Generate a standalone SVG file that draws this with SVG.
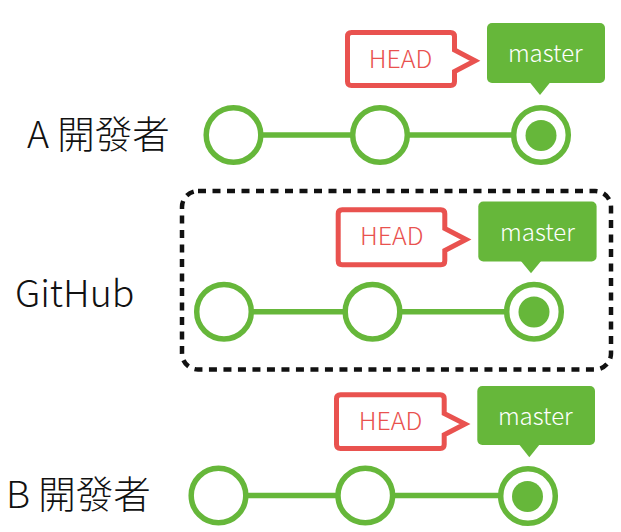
<svg xmlns="http://www.w3.org/2000/svg" width="621" height="532" viewBox="0 0 621 532">
<style>
.lbl{font-family:"Noto Sans CJK TC","Noto Sans CJK SC",sans-serif;font-size:37.5px;font-weight:300;fill:#111}
.gh{font-family:"Noto Sans CJK TC","Noto Sans",sans-serif;font-size:37.5px;font-weight:300;fill:#111}
.head{fill:#fff;stroke:#E9524F;stroke-width:5;stroke-linejoin:miter}
.headt{font-family:"Noto Sans CJK TC","Liberation Sans",sans-serif;font-size:25px;font-weight:300;fill:#E9524F;text-anchor:middle}
.mbox{fill:#66B73A}
.mt{font-family:"Noto Sans CJK TC","Liberation Sans",sans-serif;font-size:24px;font-weight:300;fill:#fff;text-anchor:middle}
.c{fill:#fff;stroke:#66B73A;stroke-width:5.5}
.dot{fill:#66B73A}
.ln{stroke:#66B73A;stroke-width:5.5;fill:none}
.dash{fill:none;stroke:#111;stroke-width:4.5;stroke-dasharray:8 6.5}
</style>

<g id="labels">
<text class="lbl" x="27" y="148">A 開發者</text>
<text class="gh" x="15" y="307">GitHub</text>
<text class="lbl" x="6" y="508">B 開發者</text>
</g>

<g id="github-box">
<rect class="dash" x="182" y="191" width="429" height="178.5" rx="16"/>
</g>

<g id="connectors">
<line class="ln" x1="260" y1="135" x2="353" y2="135"/>
<line class="ln" x1="407" y1="135" x2="514" y2="135"/>
<line class="ln" x1="251" y1="311.7" x2="346" y2="311.7"/>
<line class="ln" x1="399" y1="311.7" x2="507" y2="311.7"/>
<line class="ln" x1="245" y1="495.5" x2="339" y2="495.5"/>
<line class="ln" x1="392" y1="495.5" x2="501" y2="495.5"/>
</g>

<g id="rowA">
<g id="a-c1"><circle class="c" cx="233.5" cy="135" r="27.3"/></g>
<g id="a-c2"><circle class="c" cx="380" cy="135" r="27.3"/></g>
<g id="a-c3"><circle class="c" cx="541" cy="135" r="27.3"/><circle class="dot" cx="541" cy="135.5" r="15.5"/></g>
<g id="a-head">
<path class="head" d="M351.5 32.5H450.5Q454.5 32.5 454.5 36.5V50L475 60.7L454.5 71.5V81.5Q454.5 85.5 450.5 85.5H351.5Q347.5 85.5 347.5 81.5V36.5Q347.5 32.5 351.5 32.5Z"/>
<text class="headt" x="400.5" y="68">HEAD</text>
</g>
<g id="a-master">
<rect class="mbox" x="487" y="23" width="118" height="60" rx="5"/>
<polygon class="mbox" points="529.5,82 550.5,82 540,95"/>
<text class="mt" x="545.3" y="61.5">master</text>
</g>
</g>

<g id="rowGitHub">
<g id="g-c1"><circle class="c" cx="224" cy="311.7" r="27.3"/></g>
<g id="g-c2"><circle class="c" cx="372.5" cy="311.7" r="27.3"/></g>
<g id="g-c3"><circle class="c" cx="534" cy="311.7" r="27.3"/><circle class="dot" cx="534" cy="312" r="15.5"/></g>
<g id="g-head">
<path class="head" d="M342.2 209.8H440.8Q444.8 209.8 444.8 213.8V228.5L466 239.5L444.8 250.5V260.8Q444.8 264.8 440.8 264.8H342.2Q338.2 264.8 338.2 260.8V213.8Q338.2 209.8 342.2 209.8Z"/>
<text class="headt" x="391.7" y="245">HEAD</text>
</g>
<g id="g-master">
<rect class="mbox" x="478.3" y="201.5" width="118.3" height="60" rx="5"/>
<polygon class="mbox" points="520.5,260.5 541.5,260.5 531,273.3"/>
<text class="mt" x="537.5" y="241">master</text>
</g>
</g>

<g id="rowB">
<g id="b-c1"><circle class="c" cx="218.5" cy="495.5" r="27.3"/></g>
<g id="b-c2"><circle class="c" cx="365.3" cy="495.5" r="27.3"/></g>
<g id="b-c3"><circle class="c" cx="528" cy="496" r="27.3"/><circle class="dot" cx="527.5" cy="496.5" r="15.5"/></g>
<g id="b-head">
<path class="head" d="M340.5 394.8H440.2Q444.2 394.8 444.2 398.8V413.5L465 424L444.2 434.8V444.5Q444.2 448.5 440.2 448.5H340.5Q336.5 448.5 336.5 444.5V398.8Q336.5 394.8 340.5 394.8Z"/>
<text class="headt" x="390.5" y="430">HEAD</text>
</g>
<g id="b-master">
<rect class="mbox" x="477.3" y="386" width="117.7" height="59" rx="5"/>
<polygon class="mbox" points="518.8,444 540,444 529.3,457.3"/>
<text class="mt" x="535.3" y="425">master</text>
</g>
</g>
</svg>
